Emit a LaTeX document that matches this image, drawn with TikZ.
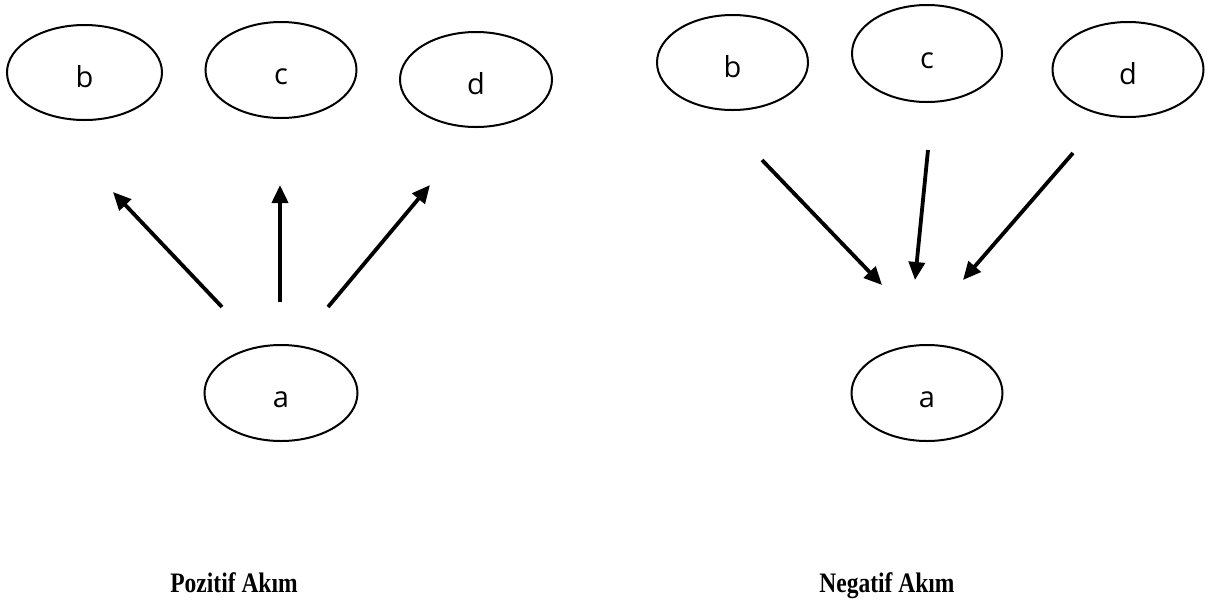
\documentclass[tikz,border=0pt]{standalone}
\usepackage{fontspec}
\setmainfont{Liberation Serif}
\newfontfamily\lblfont{Open Sans}
\usetikzlibrary{arrows.meta,shapes.geometric}
\tikzset{
  oval/.style={ellipse, draw, line width=2pt, minimum width=152pt, minimum height=96pt,
    inner sep=0pt, font=\lblfont\fontsize{29}{29}\selectfont, text height=29pt, text depth=0pt},
  flow/.style={line width=3.8pt, -{Triangle[length=18pt,width=16pt]}},
  caption/.style={anchor=base, font=\bfseries\fontsize{23.5}{24}\selectfont}
}
\begin{document}
\begin{tikzpicture}[x=1pt,y=-1pt]
\useasboundingbox (0,0) rectangle (1227,606);
\fill[white] (0,0) rectangle (1227,606);
% left: Pozitif Akim
\node[oval, minimum width=155pt, minimum height=95pt] (lb) at (84.5,72.5) {b};
\node[oval, minimum width=151pt, minimum height=96pt] (lc) at (281,70) {c};
\node[oval, minimum width=152pt, minimum height=95pt] (ld) at (476,79.5) {d};
\node[oval, minimum width=153pt, minimum height=96pt] (la) at (281,393) {a};
\coordinate (lt1) at (222,307);
\coordinate (lh1) at (113,192);
\coordinate (lt2) at (280,302);
\coordinate (lh2) at (280,185);
\coordinate (lt3) at (328,307);
\coordinate (lh3) at (430,185);
\draw[flow] (lt1) -- (lh1);
\draw[flow] (lt2) -- (lh2);
\draw[flow] (lt3) -- (lh3);
\node[caption] (lcap) at (234,592) {\scalebox{1}[1.2]{Pozitif Akım}};
% right: Negatif Akim
\node[oval, minimum width=151pt, minimum height=95pt] (rb) at (732.5,62.5) {b};
\node[oval, minimum width=150pt, minimum height=97pt] (rc) at (927,53.5) {c};
\node[oval, minimum width=151pt, minimum height=95pt] (rd) at (1128,69.5) {d};
\node[oval, minimum width=151pt, minimum height=96pt] (ra) at (927,393) {a};
\coordinate (rt1) at (762,160);
\coordinate (rh1) at (882,285);
\coordinate (rt2) at (928,150);
\coordinate (rh2) at (915,280);
\coordinate (rt3) at (1073,153);
\coordinate (rh3) at (963,280);
\draw[flow] (rt1) -- (rh1);
\draw[flow] (rt2) -- (rh2);
\draw[flow] (rt3) -- (rh3);
\node[caption] (rcap) at (887,592) {\scalebox{1}[1.2]{Negatif Akım}};
\end{tikzpicture}
\end{document}
